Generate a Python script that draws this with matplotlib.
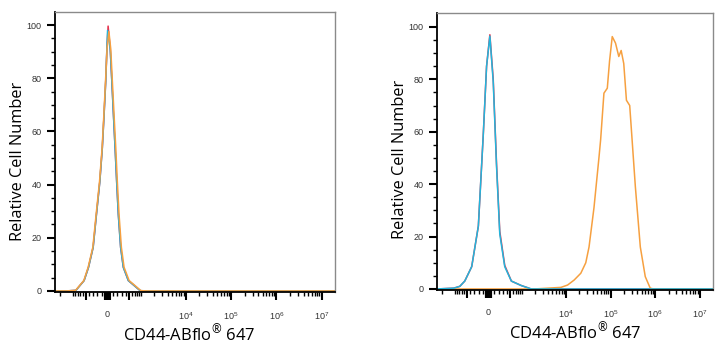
import numpy as np
import matplotlib
matplotlib.use("Agg")
from matplotlib import pyplot as plt

plt.rcParams['mathtext.fontset'] = 'custom'
plt.rcParams['mathtext.rm'] = 'Liberation Sans'
plt.rcParams['mathtext.default'] = 'regular'

# histogram traces, x in fluorescence units, y in % of max
XMIN, XMAX = -2634, 1.98e7

# left panel: all three samples overlap near 0
left_red_x = [XMIN, -1500, -880, -545, -410, -290, -215, -145, -95, -62, -30, -8, 15, 55, 86, 118, 150, 183, 218, 270, 335, 475, 950, 1400, XMAX]
left_red_y = [0, 0, 0.2, 3.9, 8.9, 16.4, 28.8, 41, 53.8, 66, 78.8, 91, 99.6, 91, 78.8, 66, 53.8, 41, 28.8, 16.4, 8.9, 3.9, 0.1, 0, 0]
left_blue_x = [XMIN, -1500, -880, -545, -410, -290, -215, -145, -95, -62, -30, -8, 5, 55, 86, 118, 150, 183, 218, 270, 335, 475, 950, 1400, XMAX]
left_blue_y = [0, 0, 0.2, 3.9, 8.9, 16.4, 28.8, 41, 53.8, 66, 78.8, 91, 98, 91, 78.8, 66, 53.8, 41, 28.8, 16.4, 8.9, 3.9, 0.1, 0, 0]
left_orange_x = [XMIN, -1500, -896, -555, -421, -298, -222, -151, -99, -66, -34, -5, 30, 65, 96, 130, 164, 197, 234, 288, 355, 500, 990, 1450, XMAX]
left_orange_y = [0, 0, 0.2, 3.9, 8.9, 16.4, 28.8, 41, 53.8, 66, 78.8, 91, 97.5, 91, 78.8, 66, 53.8, 41, 28.8, 16.4, 8.9, 3.9, 0.1, 0, 0]

# right panel: controls near 0, stained sample near 1e5
right_red_x = [XMIN, -1078, -774, -578, -364, -204, -102, -38, 25, 90, 156, 226, 346, 543, 967, 1650, XMAX]
right_red_y = [0, 0.3, 1, 3, 8.5, 24, 59, 85, 97, 80, 48, 22, 9, 3, 1.3, 0, 0]
right_blue_x = [XMIN, -1078, -774, -578, -364, -204, -102, -38, 25, 90, 156, 226, 346, 543, 967, 1650, XMAX]
right_blue_y = [0, 0.3, 1, 3, 8.5, 24, 59, 85, 96.5, 79, 47, 21, 8.5, 3, 1.3, 0, 0]
right_orange_x = [XMIN, 1961, 3920, 7750, 10930, 15300, 21600, 27900, 33000, 42600, 55000, 60100,
                  71200, 84700, 95200, 109300, 129500, 153300, 173200, 198000, 227400, 269200,
                  304300, 360400, 465500, 601000, 776000, 918700, XMAX]
right_orange_y = [0, 0, 0.3, 0.6, 1.5, 3.4, 6, 10, 16, 31, 50, 57,
                  74.7, 76.6, 87, 96.3, 93.8, 88.7, 91, 86, 72, 70,
                  57, 39, 16, 4.7, 0.3, 0, 0]

RED = '#e8344e'
BLUE = '#22b5dc'
ORANGE = '#f6a040'

major_x = [-500, -50, -40, -30, -20, -10, 0, 10, 20, 30, 40, 50, 500, 1e4, 1e5, 1e6, 1e7]
major_lbl = ['' if v not in (0, 1e4, 1e5, 1e6, 1e7) else
             ('0' if v == 0 else '$10^{%d}$' % round(np.log10(v))) for v in major_x]
minor_x = [-v for v in (100, 200, 300, 400, 600, 700, 800, 900, 1000, 2000)]
minor_x += [100, 200, 300, 400, 600, 700, 800, 900]
for k in range(3, 7):
    minor_x += [m * 10**k for m in range(1 if k == 3 else 2, 10)]


def style(ax, ytop, xlab_x, ylab_y):
    ax.set_xscale('asinh', linear_width=370)
    ax.set_xlim(XMIN, XMAX)
    ax.set_ylim(-0.4, ytop)
    ax.set_xticks(major_x, major_lbl)
    ax.set_xticks(minor_x, minor=True)
    ax.set_yticks([0, 20, 40, 60, 80, 100])
    ax.set_yticks(np.arange(0, 101, 5), minor=True)
    ax.tick_params(axis='both', which='major', direction='out', length=6, width=1.5,
                   labelsize=6.5, labelcolor='#333333')
    ax.tick_params(axis='both', which='minor', direction='out', length=3, width=1.0)
    ax.tick_params(axis='x', which='major', pad=7)
    for lab in ax.get_xticklabels() + ax.get_yticklabels():
        lab.set_family('Liberation Sans')
    for s in ('top', 'right'):
        ax.spines[s].set_color('#8a8a8a')
        ax.spines[s].set_linewidth(1.0)
    for s in ('left', 'bottom'):
        ax.spines[s].set_color('black')
        ax.spines[s].set_linewidth(1.3)
    ax.set_ylabel('Relative Cell Number', family='Open Sans', fontsize=11.8, labelpad=0.5)
    ax.set_xlabel('CD44-ABflo$^{®}$ 647', family='Open Sans', fontsize=12, labelpad=0.5)
    ax.yaxis.label.set_y(ylab_y)
    ax.xaxis.label.set_x(xlab_x)


fig = plt.figure(figsize=(7.25, 3.5), dpi=100)
ax1 = fig.add_axes([55/725, 1-292/350, 280/725, 280/350])
ax2 = fig.add_axes([437/725, 1-290/350, 276/725, 277/350])

ax1.plot(left_red_x, left_red_y, color=RED, lw=1.1)
ax1.plot(left_blue_x, left_blue_y, color=BLUE, lw=1.1)
ax1.plot(left_orange_x, left_orange_y, color=ORANGE, lw=1.1)
style(ax1, 104.9, 0.479, 0.468)

ax2.plot(right_red_x, right_red_y, color=RED, lw=1.1)
ax2.plot(right_orange_x, right_orange_y, color=ORANGE, lw=1.1)
ax2.plot(right_blue_x, right_blue_y, color=BLUE, lw=1.1)
style(ax2, 105.3, 0.5, 0.471)

fig.savefig('out.png', dpi=100)
